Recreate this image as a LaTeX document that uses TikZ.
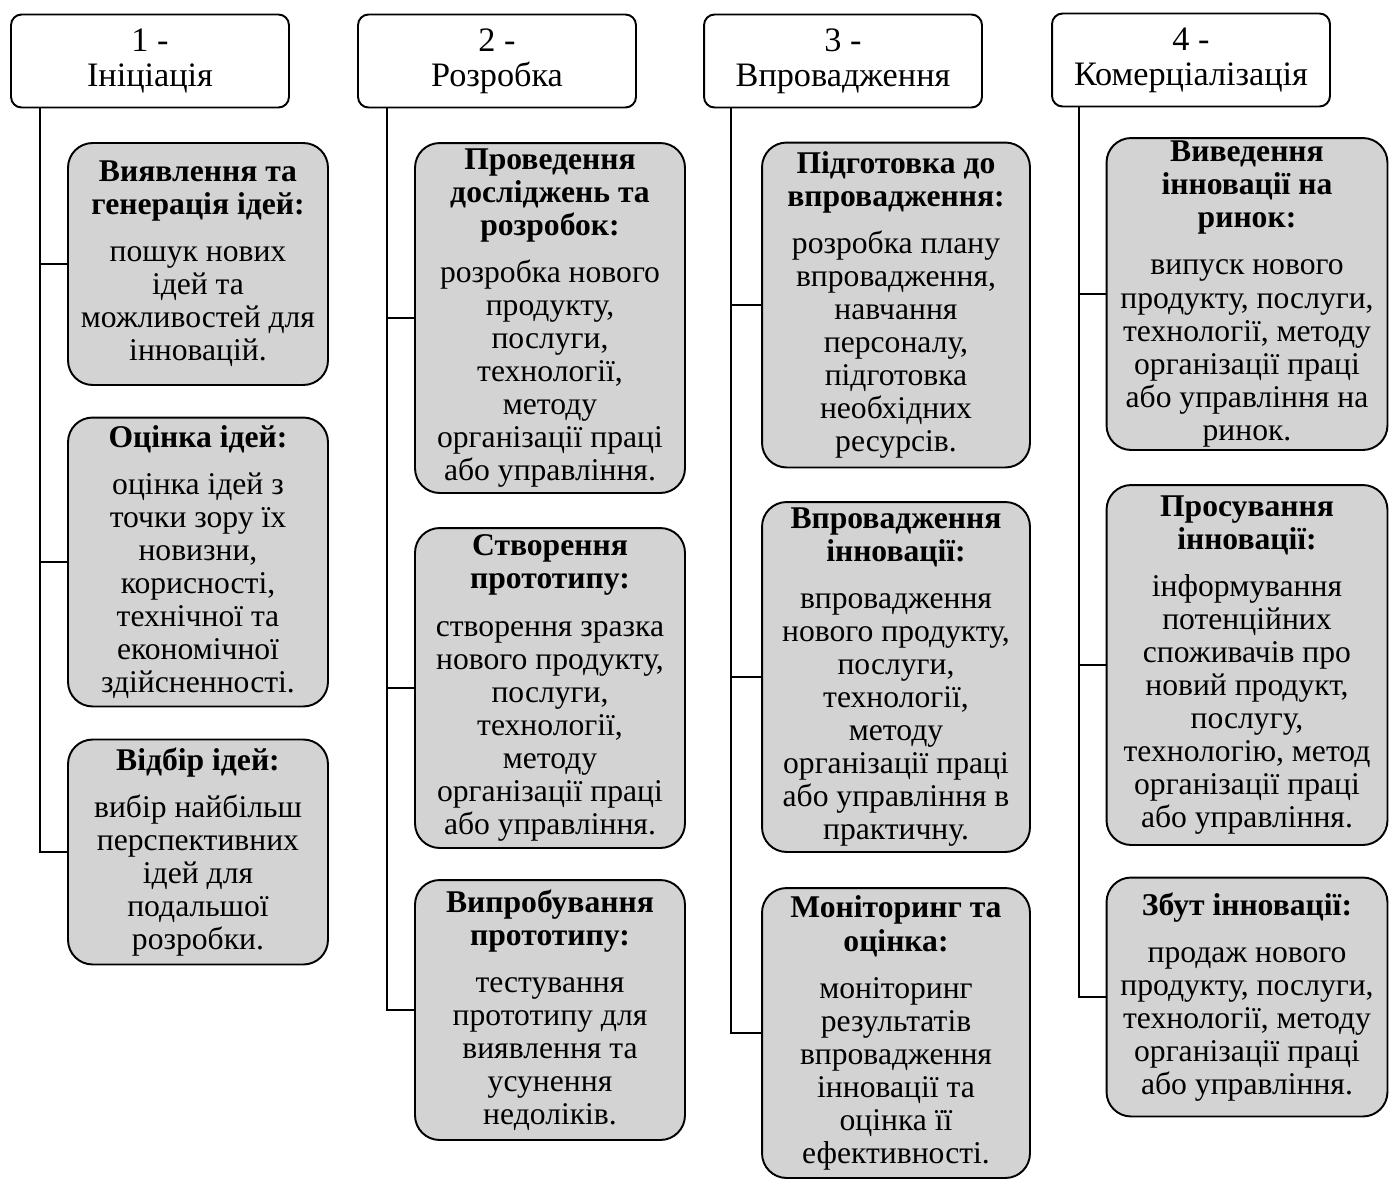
\documentclass[tikz,border=0pt]{standalone}
\usepackage{fontspec}
\setmainfont{Liberation Serif}
\usetikzlibrary{positioning}
\definecolor{border}{HTML}{000000}
\definecolor{fillStage}{HTML}{D3D3D3}
\tikzset{
  headbox/.style={
    rectangle, rounded corners=6pt, draw=border, fill=white,
    minimum width=5.56cm, minimum height=1.86cm, align=center,
    font=\fontsize{19.5}{20}\selectfont, inner sep=2pt, line width=1.1pt,
  },
  stagebox/.style={
    headbox, rounded corners=14pt, fill=fillStage, inner sep=1pt,
    font=\fontsize{18}{18.8}\selectfont,
  },
  link/.style={draw=border, line width=1.1pt},
}

\begin{document}
\begin{tikzpicture}[x=0.02cm, y=-0.02cm]

  \useasboundingbox (0,0) rectangle (1390,1180);

  % Stage headers
  \node[headbox] (h1) at (150, 61) {1 -\\Ініціація};
  \node[headbox] (h2) at (497, 61) {2 -\\Розробка};
  \node[headbox] (h3) at (843, 61) {3 -\\Впровадження};
  \node[headbox] (h4) at (1191, 60) {4 -\\Комерціалізація};

  % Column 1
  \node[stagebox, minimum width=5.2cm, minimum height=4.84cm] (b11) at (198, 264) {\textbf{Виявлення та}\\\textbf{генерація ідей:}\\[8pt]пошук нових\\ідей та\\можливостей для\\інновацій.};
  \node[stagebox, minimum width=5.2cm, minimum height=5.78cm] (b12) at (198, 562) {\textbf{Оцінка ідей:}\\[8pt]оцінка ідей з\\точки зору їх\\новизни,\\корисності,\\технічної та\\економічної\\здійсненності.};
  \node[stagebox, minimum width=5.2cm, minimum height=4.5cm] (b13) at (198, 852) {\textbf{Відбір ідей:}\\[8pt]вибір найбільш\\перспективних\\ідей для\\подальшої\\розробки.};

  % Column 2
  \node[stagebox, minimum width=5.4cm, minimum height=7cm] (b21) at (550, 318) {\textbf{Проведення}\\\textbf{досліджень та}\\\textbf{розробок:}\\[8pt]розробка нового\\продукту,\\послуги,\\технології,\\методу\\організації праці\\або управління.};
  \node[stagebox, minimum width=5.4cm, minimum height=6.4cm] (b22) at (550, 688) {\textbf{Створення}\\\textbf{прототипу:}\\[8pt]створення зразка\\нового продукту,\\послуги,\\технології,\\методу\\організації праці\\або управління.};
  \node[stagebox, minimum width=5.4cm, minimum height=5.2cm] (b23) at (550, 1010) {\textbf{Випробування}\\\textbf{прототипу:}\\[8pt]тестування\\прототипу для\\виявлення та\\усунення\\недоліків.};

  % Column 3
  \node[stagebox, minimum width=5.36cm, minimum height=6.5cm] (b31) at (896, 305) {\textbf{Підготовка до}\\\textbf{впровадження:}\\[8pt]розробка плану\\впровадження,\\навчання\\персоналу,\\підготовка\\необхідних\\ресурсів.};
  \node[stagebox, minimum width=5.36cm, minimum height=7cm] (b32) at (896, 677) {\textbf{Впровадження}\\\textbf{інновації:}\\[8pt]впровадження\\нового продукту,\\послуги,\\технології,\\методу\\організації праці\\або управління в\\практичну.};
  \node[stagebox, minimum width=5.36cm, minimum height=5.8cm] (b33) at (896, 1033) {\textbf{Моніторинг та}\\\textbf{оцінка:}\\[8pt]моніторинг\\результатів\\впровадження\\інновації та\\оцінка її\\ефективності.};

  % Column 4
  \node[stagebox, minimum width=5.62cm, minimum height=6.24cm] (b41) at (1247, 294) {\textbf{Виведення}\\\textbf{інновації на}\\\textbf{ринок:}\\[8pt]випуск нового\\продукту, послуги,\\технології, методу\\організації праці\\або управління на\\ринок.};
  \node[stagebox, minimum width=5.62cm, minimum height=7.2cm] (b42) at (1247, 665) {\textbf{Просування}\\\textbf{інновації:}\\[8pt]інформування\\потенційних\\споживачів про\\новий продукт,\\послугу,\\технологію, метод\\організації праці\\або управління.};
  \node[stagebox, minimum width=5.62cm, minimum height=4.78cm] (b43) at (1247, 997) {\textbf{Збут інновації:}\\[8pt]продаж нового\\продукту, послуги,\\технології, методу\\організації праці\\або управління.};

  % Trunks to stage boxes
  \foreach \b in {b11,b12,b13} \draw[link] ([xshift=0.6cm]h1.south west) |- (\b.west);
  \foreach \b in {b21,b22,b23} \draw[link] ([xshift=0.6cm]h2.south west) |- (\b.west);
  \foreach \b in {b31,b32,b33} \draw[link] ([xshift=0.56cm]h3.south west) |- (\b.west);
  \foreach \b in {b41,b42,b43} \draw[link] ([xshift=0.56cm]h4.south west) |- (\b.west);

\end{tikzpicture}
\end{document}
